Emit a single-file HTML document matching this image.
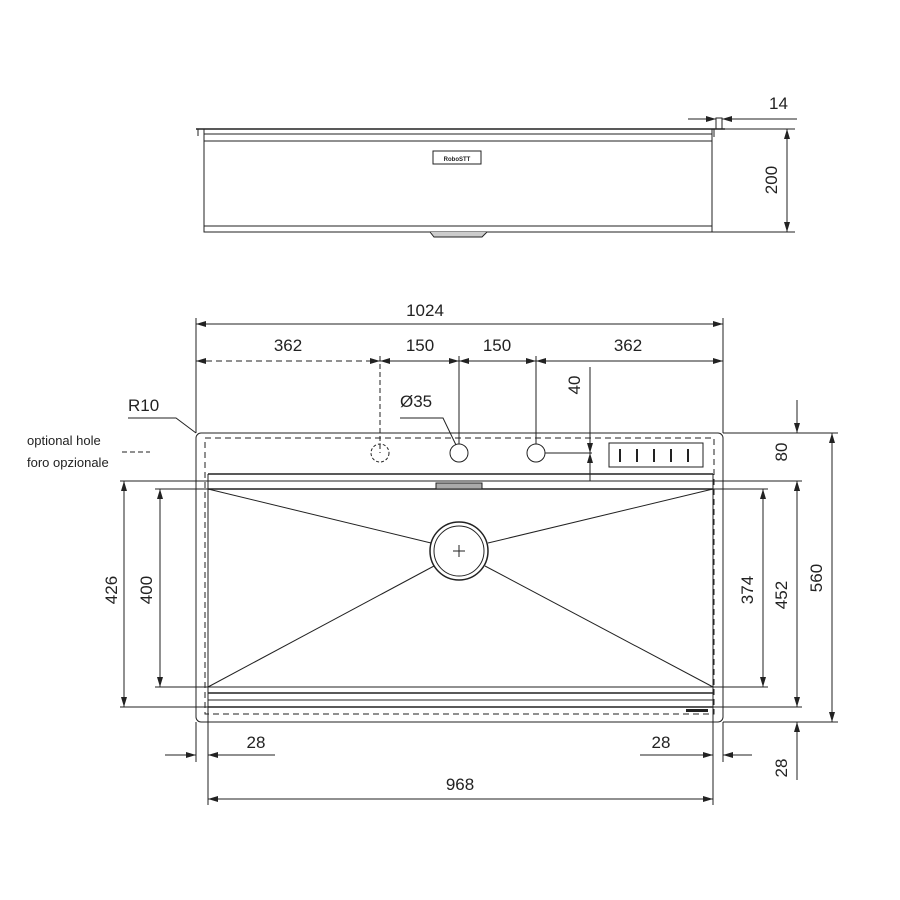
<!DOCTYPE html>
<html><head><meta charset="utf-8"><style>
html,body{margin:0;padding:0;background:#fff}
svg{display:block}
text{font-family:"Liberation Sans",Arial,sans-serif;font-size:17px;fill:#222}
</style></head><body>
<svg width="900" height="900" viewBox="0 0 900 900" xmlns="http://www.w3.org/2000/svg">
<defs>
<marker id="a" viewBox="0 0 10 6" refX="10" refY="3" markerWidth="10" markerHeight="6" orient="auto-start-reverse" markerUnits="userSpaceOnUse"><path d="M0,0L10,3L0,6z" fill="#222"/></marker>
</defs>
<g stroke="#222" fill="none" stroke-width="1">
<!-- top view -->
<line x1="196" y1="129" x2="725" y2="129" stroke-width="1.5"/>
<line x1="198" y1="129" x2="198" y2="136"/>
<line x1="714" y1="129" x2="714" y2="137"/>
<rect x="204" y="129" width="508" height="103"/>
<line x1="204" y1="134" x2="712" y2="134"/>
<line x1="204" y1="141" x2="712" y2="141"/>
<line x1="204" y1="226" x2="712" y2="226"/>
<rect x="433" y="151" width="48" height="13"/>
<path d="M430,232 L434,237 L482,237 L487,232" fill="#ccc"/>
<rect x="716" y="118" width="6" height="11"/>
<line x1="688" y1="119" x2="716" y2="119" marker-end="url(#a)"/>
<line x1="745" y1="119" x2="722" y2="119" marker-end="url(#a)"/>
<line x1="722" y1="119" x2="797" y2="119"/>
<line x1="725" y1="129" x2="795" y2="129"/>
<line x1="712" y1="232" x2="795" y2="232"/>
<line x1="787" y1="129" x2="787" y2="232" marker-start="url(#a)" marker-end="url(#a)"/>

<!-- plan -->
<rect x="196" y="433" width="527" height="289" rx="5"/>
<rect x="205" y="438" width="509" height="276" stroke-dasharray="6,4"/>
<line x1="208" y1="474" x2="713" y2="474" stroke-width="1.5"/>
<line x1="208" y1="481" x2="713" y2="481"/>
<line x1="208" y1="489" x2="713" y2="489" stroke-width="1.5"/>
<line x1="208" y1="474" x2="208" y2="707"/>
<line x1="713" y1="474" x2="713" y2="707"/>
<rect x="436" y="483" width="46" height="6" fill="#aaa"/>
<line x1="208" y1="687" x2="713" y2="687"/>
<line x1="208" y1="693" x2="713" y2="693" stroke-width="1.5"/>
<line x1="208" y1="700" x2="713" y2="700"/>
<line x1="208" y1="707" x2="713" y2="707" stroke-width="1.5"/>
<circle cx="380" cy="453" r="9" stroke-dasharray="3,2"/>
<circle cx="459" cy="453" r="9"/>
<circle cx="536" cy="453" r="9"/>
<rect x="609" y="443" width="94" height="24"/>
<g stroke-width="2"><line x1="620" y1="449" x2="620" y2="462"/><line x1="637" y1="449" x2="637" y2="462"/><line x1="654" y1="449" x2="654" y2="462"/><line x1="671" y1="449" x2="671" y2="462"/><line x1="688" y1="449" x2="688" y2="462"/></g>
<circle cx="459" cy="551" r="29" stroke-width="1.5"/>
<circle cx="459" cy="551" r="25"/>
<line x1="453" y1="551" x2="465" y2="551"/><line x1="459" y1="545" x2="459" y2="557"/>
<line x1="208" y1="489" x2="431" y2="543"/>
<line x1="713" y1="489" x2="488" y2="543"/>
<line x1="208" y1="687" x2="434" y2="566"/>
<line x1="713" y1="687" x2="485" y2="566"/>
<rect x="686" y="709" width="22" height="3" fill="#222" stroke="none"/>

<!-- 1024 -->
<line x1="196" y1="318" x2="196" y2="433"/>
<line x1="723" y1="318" x2="723" y2="433"/>
<line x1="196" y1="324" x2="723" y2="324" marker-start="url(#a)" marker-end="url(#a)"/>
<line x1="196" y1="361" x2="380" y2="361" stroke-dasharray="6,4" marker-start="url(#a)" marker-end="url(#a)"/>
<line x1="380" y1="361" x2="459" y2="361" marker-start="url(#a)" marker-end="url(#a)"/>
<line x1="459" y1="361" x2="536" y2="361" marker-start="url(#a)" marker-end="url(#a)"/>
<line x1="536" y1="361" x2="723" y2="361" marker-start="url(#a)" marker-end="url(#a)"/>
<line x1="380" y1="356" x2="380" y2="453" stroke-dasharray="5,3"/>
<line x1="459" y1="356" x2="459" y2="444"/>
<line x1="536" y1="356" x2="536" y2="444"/>
<!-- 40 -->
<line x1="545" y1="453" x2="592" y2="453"/>
<line x1="590" y1="367" x2="590" y2="453" marker-end="url(#a)"/>
<line x1="590" y1="481" x2="590" y2="453" marker-end="url(#a)"/>
<!-- Ø35 leader -->
<polyline points="400,418 443,418 456,445"/>
<!-- R10 -->
<polyline points="128,418 176,418 196,433"/>
<line x1="122" y1="452" x2="150" y2="452" stroke-dasharray="5,3"/>
<!-- right dims -->
<line x1="723" y1="433" x2="838" y2="433"/>
<line x1="713" y1="481" x2="802" y2="481"/>
<line x1="713" y1="489" x2="768" y2="489"/>
<line x1="713" y1="687" x2="768" y2="687"/>
<line x1="713" y1="707" x2="802" y2="707"/>
<line x1="723" y1="722" x2="838" y2="722"/>
<line x1="797" y1="400" x2="797" y2="433" marker-end="url(#a)"/>
<line x1="797" y1="500" x2="797" y2="481" marker-end="url(#a)"/>
<line x1="797" y1="481" x2="797" y2="707" marker-start="url(#a)" marker-end="url(#a)"/>
<line x1="763" y1="489" x2="763" y2="687" marker-start="url(#a)" marker-end="url(#a)"/>
<line x1="832" y1="433" x2="832" y2="722" marker-start="url(#a)" marker-end="url(#a)"/>
<line x1="797" y1="722" x2="797" y2="780"/>
<line x1="797" y1="740" x2="797" y2="722" marker-end="url(#a)"/>
<!-- left dims -->
<line x1="120" y1="481" x2="208" y2="481"/>
<line x1="155" y1="489" x2="208" y2="489"/>
<line x1="155" y1="687" x2="208" y2="687"/>
<line x1="120" y1="707" x2="208" y2="707"/>
<line x1="124" y1="481" x2="124" y2="707" marker-start="url(#a)" marker-end="url(#a)"/>
<line x1="160" y1="489" x2="160" y2="687" marker-start="url(#a)" marker-end="url(#a)"/>
<!-- bottom dims -->
<line x1="196" y1="722" x2="196" y2="762"/>
<line x1="208" y1="707" x2="208" y2="805"/>
<line x1="713" y1="707" x2="713" y2="805"/>
<line x1="723" y1="722" x2="723" y2="762"/>
<line x1="165" y1="755" x2="196" y2="755" marker-end="url(#a)"/>
<line x1="275" y1="755" x2="208" y2="755" marker-end="url(#a)"/>
<line x1="640" y1="755" x2="713" y2="755" marker-end="url(#a)"/>
<line x1="752" y1="755" x2="723" y2="755" marker-end="url(#a)"/>
<line x1="208" y1="799" x2="713" y2="799" marker-start="url(#a)" marker-end="url(#a)"/>
</g>
<g>
<text x="769" y="109">14</text>
<text transform="translate(777,180) rotate(-90)" text-anchor="middle">200</text>
<text x="425" y="316" text-anchor="middle">1024</text>
<text x="288" y="351" text-anchor="middle">362</text>
<text x="420" y="351" text-anchor="middle">150</text>
<text x="497" y="351" text-anchor="middle">150</text>
<text x="628" y="351" text-anchor="middle">362</text>
<text transform="translate(580,385) rotate(-90)" text-anchor="middle">40</text>
<text x="400" y="407">Ø35</text>
<text x="128" y="411">R10</text>
<text x="27" y="445" style="font-size:13px">optional hole</text>
<text x="27" y="467" style="font-size:13px">foro opzionale</text>
<text transform="translate(787,452) rotate(-90)" text-anchor="middle">80</text>
<text transform="translate(822,578) rotate(-90)" text-anchor="middle">560</text>
<text transform="translate(787,595) rotate(-90)" text-anchor="middle">452</text>
<text transform="translate(753,590) rotate(-90)" text-anchor="middle">374</text>
<text transform="translate(117,590) rotate(-90)" text-anchor="middle">426</text>
<text transform="translate(152,590) rotate(-90)" text-anchor="middle">400</text>
<text x="256" y="748" text-anchor="middle">28</text>
<text x="661" y="748" text-anchor="middle">28</text>
<text transform="translate(787,768) rotate(-90)" text-anchor="middle">28</text>
<text x="460" y="790" text-anchor="middle">968</text>
<text x="457" y="161" text-anchor="middle" style="font-size:6px;font-weight:bold">RoboSTT</text>
</g>
</svg>
</body></html>
